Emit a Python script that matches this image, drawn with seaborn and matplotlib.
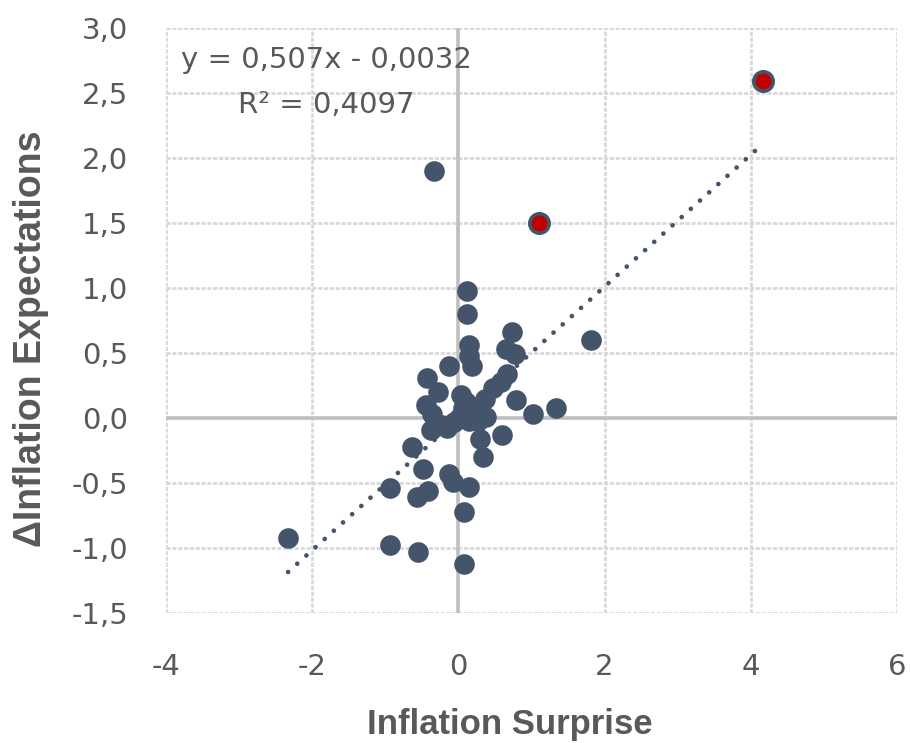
import matplotlib
matplotlib.use("Agg")
import matplotlib.pyplot as plt
import seaborn as sns
import numpy as np
import pandas as pd

# ---- data ----
x_vals = [-2.33, -0.34, 0.12, 0.12, 0.15, 0.15, 0.74, 0.65, 0.77, 1.81,
          -0.13, 0.18, -0.43, -0.28, -0.44, -0.36, 0.04, 0.06, 0.67, 0.58,
          0.48, 0.37, 0.29, 0.79, 1.02, 1.33, 0.60, 0.30, 0.34, -0.38,
          -0.16, -0.06, 0.01, 0.15, 0.27, 0.38, -0.64, -0.48, -0.13, -0.08,
          0.15, -0.93, -0.57, -0.42, 0.08, -0.94, -0.55, 0.08, 0.10, 0.20,
          -0.22, 1.10, 4.17]
y_vals = [-0.92, 1.90, 0.98, 0.80, 0.56, 0.48, 0.66, 0.53, 0.49, 0.60,
          0.40, 0.40, 0.31, 0.20, 0.10, 0.03, 0.18, 0.08, 0.34, 0.28,
          0.23, 0.15, 0.08, 0.14, 0.03, 0.08, -0.13, -0.16, -0.30, -0.09,
          -0.08, -0.03, 0.00, -0.02, -0.02, 0.01, -0.22, -0.39, -0.43, -0.49,
          -0.53, -0.54, -0.61, -0.56, -0.72, -0.98, -1.03, -1.12, 0.12, 0.05,
          -0.05, 1.50, 2.59]
highlight = [False] * 51 + [True, True]

trend_slope = 0.507
trend_intercept = -0.0032
equation_line = "y = 0,507x - 0,0032"
r2_line = "R² = 0,4097"

x_ticks = [-4, -2, 0, 2, 4, 6]
x_tick_labels = ["-4", "-2", "0", "2", "4", "6"]
y_ticks = [-1.5, -1.0, -0.5, 0.0, 0.5, 1.0, 1.5, 2.0, 2.5, 3.0]
y_tick_labels = ["-1,5", "-1,0", "-0,5", "0,0", "0,5", "1,0", "1,5", "2,0", "2,5", "3,0"]

df = pd.DataFrame({"surprise": x_vals, "expect": y_vals, "hl": highlight})

sns.set_theme(style="white")
plt.rcParams['font.family'] = ['DejaVu Sans']

NAVY = "#44546A"
GRID = "#D9D9D9"
ZERO = "#BFBFBF"
TXT = "#595959"

fig = plt.figure(figsize=(9.12, 7.43), dpi=100)
ax = fig.add_axes([166/912, 1-613/743, (897-166)/912, (613-28)/743])

ax.set_xlim(-4, 6)
ax.set_ylim(-1.5, 3.0)

# grid
for xv in x_ticks:
    if xv == 0:
        continue
    ax.axvline(xv, color=GRID, lw=2, ls=(0, (1.5, 0.6)), zorder=0)
for yv in y_ticks:
    if yv == 0:
        continue
    ax.axhline(yv, color=GRID, lw=2, ls=(0, (1.5, 0.6)), zorder=0)
ax.axvline(0, color=ZERO, lw=2.6, zorder=0.5)
ax.axhline(0, color=ZERO, lw=2.6, zorder=0.5)
for s in ax.spines.values():
    s.set_visible(False)

# trend line
xmin, xmax = min(x_vals), max(x_vals)
tx = np.array([xmin, xmax])
ty = trend_slope * tx + trend_intercept
ax.plot(tx, ty, color=NAVY, lw=3.4, ls=(0, (0.01, 2.6)),
        dash_capstyle='round', zorder=1)

sns.scatterplot(data=df[~df.hl], x="surprise", y="expect", color=NAVY,
                s=220, edgecolor=NAVY, linewidth=0, ax=ax, zorder=2)
sns.scatterplot(data=df[df.hl], x="surprise", y="expect", color="#C00000",
                s=195, edgecolor=NAVY, linewidth=2.6, ax=ax, zorder=3)

ax.set_xticks(x_ticks)
ax.set_xticklabels(x_tick_labels)
ax.set_yticks(y_ticks)
ax.set_yticklabels(y_tick_labels)
ax.tick_params(axis='both', length=0, labelsize=21, labelcolor=TXT)
ax.tick_params(axis='y', pad=27)
ax.tick_params(axis='x', pad=29)

ax.set_xlabel("Inflation Surprise", fontsize=25, color=TXT,
              fontweight='bold', family=['Liberation Sans', 'DejaVu Sans'],
              va='center', ha='center')
ax.xaxis.set_label_coords(0.471, -0.191)
ax.set_ylabel("ΔInflation Expectations", fontsize=27, color=TXT,
              fontweight='bold', family=['Liberation Sans', 'DejaVu Sans'],
              va='center', ha='center')
ax.yaxis.set_label_coords(-0.185, 0.468)

ax.text(-1.81, 2.754, equation_line, ha='center', va='center', fontsize=21,
        color=TXT, zorder=4)
ax.text(-1.81, 2.408, r2_line, ha='center', va='center', fontsize=21,
        color=TXT, zorder=4)

fig.savefig("out.png", dpi=100)
